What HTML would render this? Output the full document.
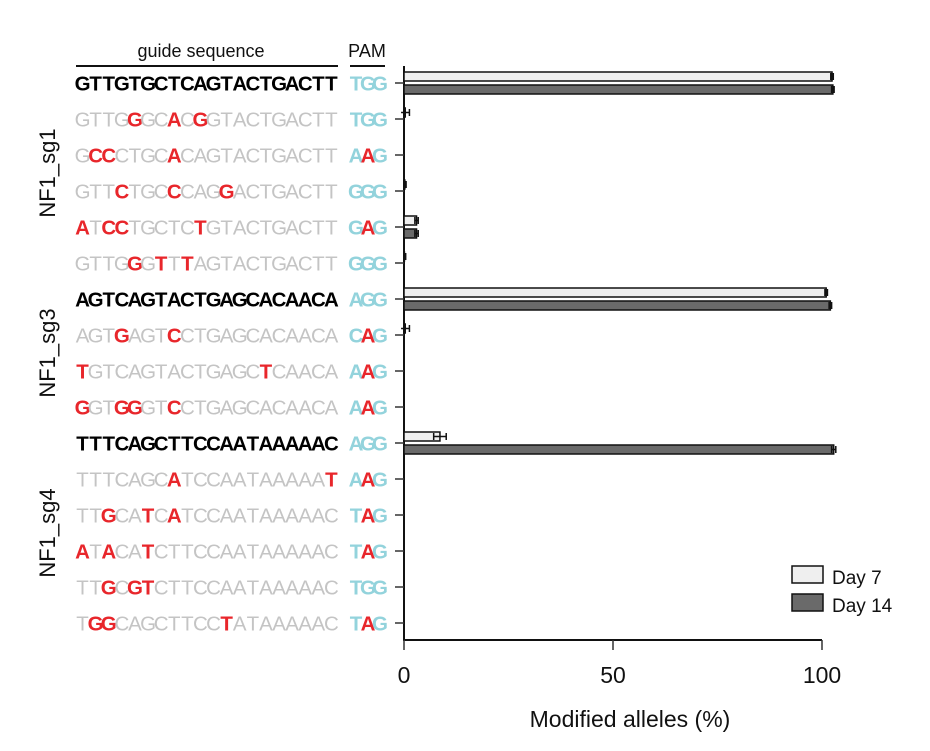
<!DOCTYPE html>
<html><head><meta charset="utf-8"><style>
body{margin:0;background:#fff;}
svg{display:block;font-family:"Liberation Sans",sans-serif;}
</style></head><body>
<svg id="chart" width="930" height="751">
<g id="left"></g>
<g id="plot"></g>
</svg>
<script>
// Sequences: uppercase gray, lowercase = mismatch (red bold). Row types: 1 = on-target (black bold)
const guides = ["GTTGTGCTCAGTACTGACTT","GTTGgGCaCgGTACTGACTT","GccCTGCaCAGTACTGACTT","GTTcTGCcCAGgACTGACTT","aTccTGCTCtGTACTGACTT","GTTGgGtTtAGTACTGACTT",
"AGTCAGTACTGAGCACAACA","AGTgAGTcCTGAGCACAACA","tGTCAGTACTGAGCtCAACA","gGTggGTcCTGAGCACAACA",
"TTTCAGCTTCCAATAAAAAC","TTTCAGCaTCCAATAAAAAt","TTgCAtCaTCCAATAAAAAC","aTaCAtCTTCCAATAAAAAC","TTgCgtCTTCCAATAAAAAC","TggCAGCTTCCtATAAAAAC"];
const pams = ["TGG","TGG","AaG","GGG","GaG","GGG","AGG","CaG","AaG","AaG","AGG","AaG","TaG","TaG","TGG","TaG"];
const onTarget = [1,0,0,0,0,0,1,0,0,0,1,0,0,0,0,0];
const day7 = [102.4,0.3,0,0.2,3,0.1,101,0.3,0,0,8.6,0,0,0,0,0];
const day7err = [0,1,0,0,0.4,0,0,1,0,0,1.5,0,0,0,0,0];
const day14 = [102.6,0,0,0,3,0,102,0,0,0,102.8,0,0,0,0,0];
const day14err = [0,0,0,0,0.4,0,0,0,0,0,0.5,0,0,0,0,0];
const groups = ["NF1_sg1","NF1_sg3","NF1_sg4"];
const groupRows = [[0,5],[6,9],[10,15]];
const xTicks = [0,50,100];

const NS="http://www.w3.org/2000/svg";
const X0=404, X1=822, Y0=83, DY=36;
const xs = v => X0 + v/100*(X1-X0);
const ys = i => Y0 + i*DY;
function mk(tag, attrs, parent, text){const e=document.createElementNS(NS,tag);for(const k in attrs)e.setAttribute(k,attrs[k]);if(text!==undefined)e.textContent=text;parent.appendChild(e);return e;}
const left=document.getElementById('left'), plot=document.getElementById('plot');

let t=mk('text',{x:201,y:57,'text-anchor':'middle','font-size':18,fill:'#111'},left,'guide sequence');


t=mk('line',{x1:76,x2:338,y1:66,y2:66,stroke:'#111','stroke-width':2},left);


t=mk('text',{x:367,y:57,'text-anchor':'middle','font-size':18,fill:'#111'},left,'PAM');


t=mk('line',{x1:350,x2:385,y1:66,y2:66,stroke:'#111','stroke-width':2},left);



guides.forEach((g,i)=>{
  const y=ys(i)+7.5;
  const tx=mk('text',{y:y,'font-size':20.5},left);
  
  
  [...g].forEach((c,k)=>{
    const mis=c!==c.toUpperCase();
    const col=onTarget[i]?'#000':(mis?'#e8262b':'#c4c4c4');
    mk('tspan',{x:76+6.55+k*13.1,'text-anchor':'middle',fill:col,'font-weight':(onTarget[i]||mis)?'bold':'normal'},tx,c.toUpperCase());
  });
  const px=mk('text',{y:y,'font-size':20.5},left);
  
  
  [...pams[i]].forEach((c,k)=>{
    const mis=c!==c.toUpperCase();
    mk('tspan',{x:350+6+k*12,'text-anchor':'middle',fill:mis?'#e8262b':'#93d3dc','font-weight':'bold'},px,c.toUpperCase());
  });
});
groups.forEach((g,j)=>{
  const cy=(ys(groupRows[j][0])+ys(groupRows[j][1]))/2;
  const e=mk('text',{x:0,y:0,'text-anchor':'middle','font-size':22,fill:'#111',transform:`translate(55,${cy}) rotate(-90)`},left,g);
  
  
});

// axes
let a=mk('line',{x1:X0,x2:X0,y1:66,y2:641,stroke:'#111','stroke-width':2},plot);


a=mk('line',{x1:X0,x2:X1,y1:640,y2:640,stroke:'#111','stroke-width':2},plot);


guides.forEach((g,i)=>{
  const tk=mk('line',{x1:X0-9,x2:X0,y1:ys(i),y2:ys(i),stroke:'#333','stroke-width':1.5},plot);
  
  
});
xTicks.forEach(v=>{
  const tk=mk('line',{x1:xs(v),x2:xs(v),y1:640,y2:650,stroke:'#333','stroke-width':1.5},plot);
  
  
  const lb=mk('text',{x:xs(v),y:683,'text-anchor':'middle','font-size':23,fill:'#111'},plot,String(v));
  
  
});
a=mk('text',{x:630,y:727,'text-anchor':'middle','font-size':23,fill:'#111'},plot,'Modified alleles (%)');



function bars(vals,errs,off,fill,name){
  vals.forEach((v,i)=>{
    const y=ys(i)+off;
    if(v>0){
      const r=mk('rect',{x:X0,y:y,width:xs(v)-X0,height:9,fill:fill,stroke:'#111','stroke-width':1.5},plot);
      
      
    }
    const e=errs[i];
    if(e>0||v>0){
      const ee=Math.max(e,0.3);
      const l=mk('path',{d:`M${xs(v-ee)},${y+4.5}H${xs(v+ee)}M${xs(v+ee)},${y+1}V${y+8}M${xs(Math.max(v-ee,0))},${y+1}V${y+8}`,stroke:'#111','stroke-width':1.5,fill:'none'},plot);
      
      
    }
  });
}
bars(day7,day7err,-11,'#efefef','day7');
bars(day14,day14err,2,'#6a6a6a','day14');

// legend
let lg=mk('rect',{x:792,y:566,width:31,height:17,fill:'#efefef',stroke:'#111','stroke-width':1.5},plot);


lg=mk('text',{x:832,y:584,'font-size':19,fill:'#111'},plot,'Day 7');


lg=mk('rect',{x:792,y:594,width:31,height:17,fill:'#6a6a6a',stroke:'#111','stroke-width':1.5},plot);


lg=mk('text',{x:832,y:612,'font-size':19,fill:'#111'},plot,'Day 14');


</script>
</body></html>
